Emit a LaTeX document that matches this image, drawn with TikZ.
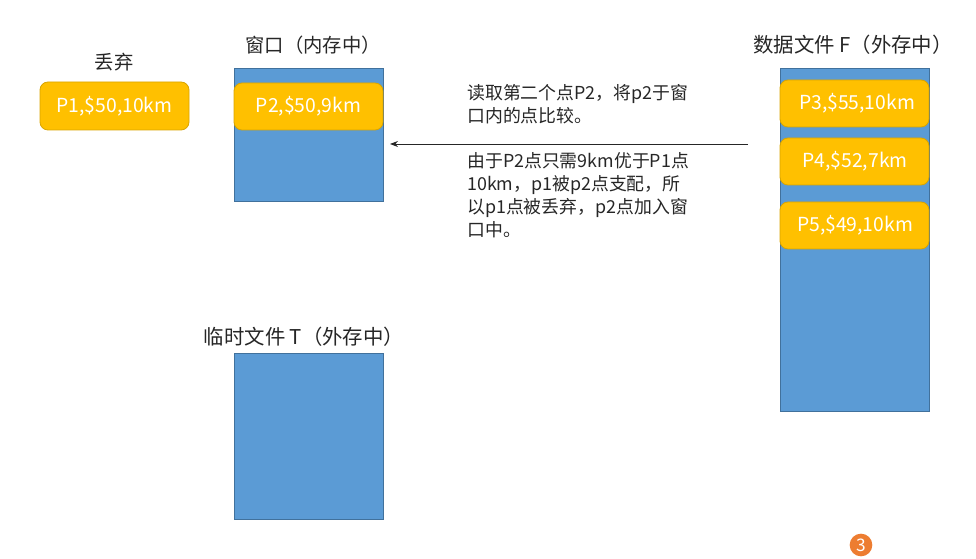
\documentclass[tikz,border=0pt]{standalone}
\usepackage{fontspec}
\setmainfont{Noto Sans CJK SC}
\newfontfamily\cjk{Noto Sans CJK SC}
\usetikzlibrary{arrows.meta}
\definecolor{boxorange}{HTML}{FFC000}
\definecolor{boxedge}{HTML}{D9A400}
\definecolor{fileblue}{HTML}{5B9BD5}
\definecolor{fileedge}{HTML}{41719C}
\definecolor{badge}{HTML}{ED7D31}
\definecolor{textgray}{HTML}{262626}
\tikzset{
  filebox/.style={draw=fileedge, fill=fileblue, line width=0.6pt},
  recbox/.style={draw=boxedge, fill=boxorange, rounded corners=6pt, line width=0.6pt},
  rectext/.style={text=white, font=\cjk\fontsize{14.5}{16}\selectfont},
  title/.style={text=textgray, font=\cjk\fontsize{14.5}{17}\selectfont, inner sep=0pt},
  widetitle/.style={title, font=\cjk\fontsize{15.3}{17}\selectfont},
  note/.style={text=textgray, font=\cjk\fontsize{13.4}{17.3}\selectfont, align=left, anchor=north west, inner sep=0pt},
  conn/.style={draw=textgray, line width=0.6pt, -{Stealth[length=6pt,width=4.5pt]}}
}
\begin{document}
\begin{tikzpicture}[x=0.75pt,y=-0.75pt]
\useasboundingbox (0,0) rectangle (976,559);
% window
\node[title] (wtitle) at (313,45) {窗口（内存中）};
\draw[filebox] (234,68) rectangle (383,201);
\coordinate (wright) at (390,144);
% discarded
\node[title] (dtitle) at (114,62) {丢弃};
\draw[recbox] (40,82) rectangle (189,130);
\node[rectext] (p1) at (114.5,106) {P1,\$50,10km};
\draw[recbox] (234,83) rectangle (383,130);
\node[rectext] (p2) at (308.5,106.5) {P2,\$50,9km};
% file F
\node[widetitle] (ftitle) at (853,45) {数据文件 F（外存中）};
\draw[filebox] (780,68) rectangle (929,411);
\coordinate (fleft) at (748,144);
\draw[recbox] (780,80) rectangle (929,127);
\node[rectext] (p3) at (857,103.5) {P3,\$55,10km};
\draw[recbox] (780,138) rectangle (929,185);
\node[rectext] (p4) at (855,161.5) {P4,\$52,7km};
\draw[recbox] (780,202) rectangle (929,249);
\node[rectext] (p5) at (855,225.5) {P5,\$49,10km};
% arrow
\draw[conn] (fleft) -- (wright);
% notes
\node[note] (n1) at (467,84) {读取第二个点P2，将p2于窗\\口内的点比较。};
\node[note] (n2) at (467,152) {由于P2点只需9km优于P1点\\10km，p1被p2点支配，所\\以p1点被丢弃，p2点加入窗\\口中。};
% temp file T
\node[widetitle] (ttitle) at (304,337) {临时文件 T（外存中）};
\draw[filebox] (234,353) rectangle (383,519);
% badge
\node[circle, fill=badge, text=white, minimum size=17pt, inner sep=0pt, font=\cjk\fontsize{13}{13}\selectfont] (badge3) at (861,545) {3};
\end{tikzpicture}
\end{document}
